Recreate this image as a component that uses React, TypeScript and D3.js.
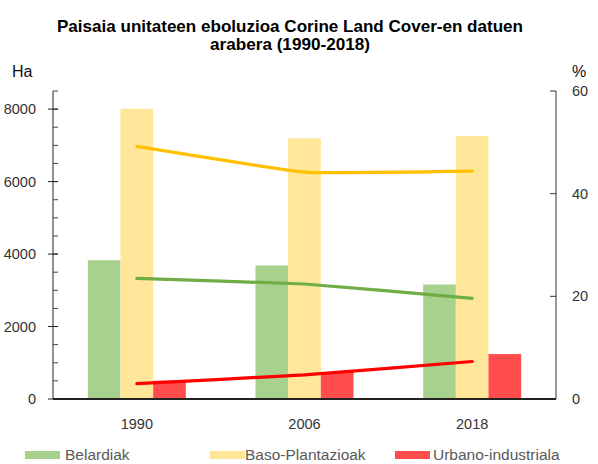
import React from "react";
import * as d3 from "d3";

const years = ["1990", "2006", "2018"];
const seriesNames = ["Belardiak", "Baso-Plantazioak", "Urbano-industriala"];
const belardiakHa = [3830, 3685, 3160];
const basoHa = [8010, 7195, 7260];
const urbanoHa = [505, 745, 1240];
const belardiakPct = [23.5, 22.4, 19.6];
const basoPct = [49.2, 44.2, 44.4];
const urbanoPct = [3.0, 4.7, 7.3];
const leftTicks = [0, 2000, 4000, 6000, 8000];
const rightTicks = [0, 20, 40, 60];
const barColors = ["#A9D18E", "#FFE699", "#FF4D4D"];
const lineColors = ["#70AD47", "#FFC000", "#FF0000"];

const W = 598;
const H = 464;
const L = 53;
const R = 556;
const T = 91;
const B = 399;

export default function App() {
  const x = d3.scaleBand<string>().domain(years).range([L, R]).paddingInner(0).paddingOuter(0);
  const yL = d3.scaleLinear().domain([0, 8500]).range([B, T]);
  const yR = d3.scaleLinear().domain([0, 60]).range([B, T]);
  const groupW = 98;
  const inner = d3.scaleBand<string>().domain(seriesNames).range([0, groupW]);
  const barData = [belardiakHa, basoHa, urbanoHa];
  const lineData = [belardiakPct, basoPct, urbanoPct];
  const cx = (y: string) => (x(y) as number) + x.bandwidth() / 2;
  const line = d3
    .line<number>()
    .x((_, i) => cx(years[i]))
    .y((d) => yR(d))
    .curve(d3.curveCardinal.tension(0.7));
  const minor = d3.range(0, 8501, 500);
  const tickFont = "'Liberation Sans', Arial, sans-serif";

  return (
    <svg width={W} height={H} style={{ position: "absolute", left: 0, top: 0, background: "#fff" }} fontFamily={tickFont}>
      <rect x={0} y={0} width={W} height={H} fill="#fff" />
      <text x={290} y={32} textAnchor="middle" fontSize={17} fontWeight="bold" fill="#000" textLength={466} lengthAdjust="spacingAndGlyphs">
        Paisaia unitateen eboluzioa Corine Land Cover-en datuen
      </text>
      <text x={290} y={50} textAnchor="middle" fontSize={17} fontWeight="bold" fill="#000" textLength={160} lengthAdjust="spacingAndGlyphs">
        arabera (1990-2018)
      </text>
      <text x={12} y={77} fontSize={16} fill="#111">Ha</text>
      <text x={572} y={77} fontSize={16} fill="#111">%</text>

      {barData.map((vals, si) =>
        vals.map((v, i) => (
          <rect
            key={`b${si}-${i}`}
            x={cx(years[i]) - groupW / 2 + (inner(seriesNames[si]) as number)}
            y={yL(v)}
            width={inner.bandwidth()}
            height={B - yL(v)}
            fill={barColors[si]}
          />
        ))
      )}

      {lineData.map((vals, si) => (
        <path key={`l${si}`} d={line(vals) || ""} fill="none" stroke={lineColors[si]} strokeWidth={3.2} strokeLinecap="round" />
      ))}

      {/* left axis */}
      <line x1={L} x2={L} y1={T} y2={B} stroke="#222" strokeWidth={1} />
      {minor.map((m) => (
        <line key={`m${m}`} x1={L} x2={L + 5} y1={yL(m)} y2={yL(m)} stroke="#444" strokeWidth={1} />
      ))}
      {leftTicks.map((t) => (
        <g key={`lt${t}`}>
          <line x1={L - 5} x2={L + 5} y1={yL(t)} y2={yL(t)} stroke="#222" strokeWidth={1} />
          <text x={36} y={yL(t) + 5} textAnchor="end" fontSize={14.5} fill="#333">
            {t}
          </text>
        </g>
      ))}

      {/* right axis */}
      <line x1={R} x2={R} y1={T} y2={B} stroke="#333" strokeWidth={1} />
      {rightTicks.map((t) => (
        <g key={`rt${t}`}>
          <line x1={R - 6} x2={R} y1={yR(t)} y2={yR(t)} stroke="#333" strokeWidth={1} />
          <text x={572} y={yR(t) + 5} textAnchor="start" fontSize={14.5} fill="#333">
            {t}
          </text>
        </g>
      ))}

      {/* bottom axis */}
      <line x1={L} x2={R} y1={B} y2={B} stroke="#222" strokeWidth={2} />
      {years.map((y) => (
        <text key={`x${y}`} x={cx(y)} y={429} textAnchor="middle" fontSize={14.5} fill="#333">
          {y}
        </text>
      ))}

      {/* legend */}
      {[
        [25, 65],
        [210, 245],
        [395, 433],
      ].map(([sx, tx], i) => (
        <g key={`lg${i}`}>
          <rect x={sx} y={451} width={35} height={8} fill={barColors[i]} />
          <text x={tx} y={460} fontSize={15.5} fill="#595959">
            {seriesNames[i]}
          </text>
        </g>
      ))}
    </svg>
  );
}
